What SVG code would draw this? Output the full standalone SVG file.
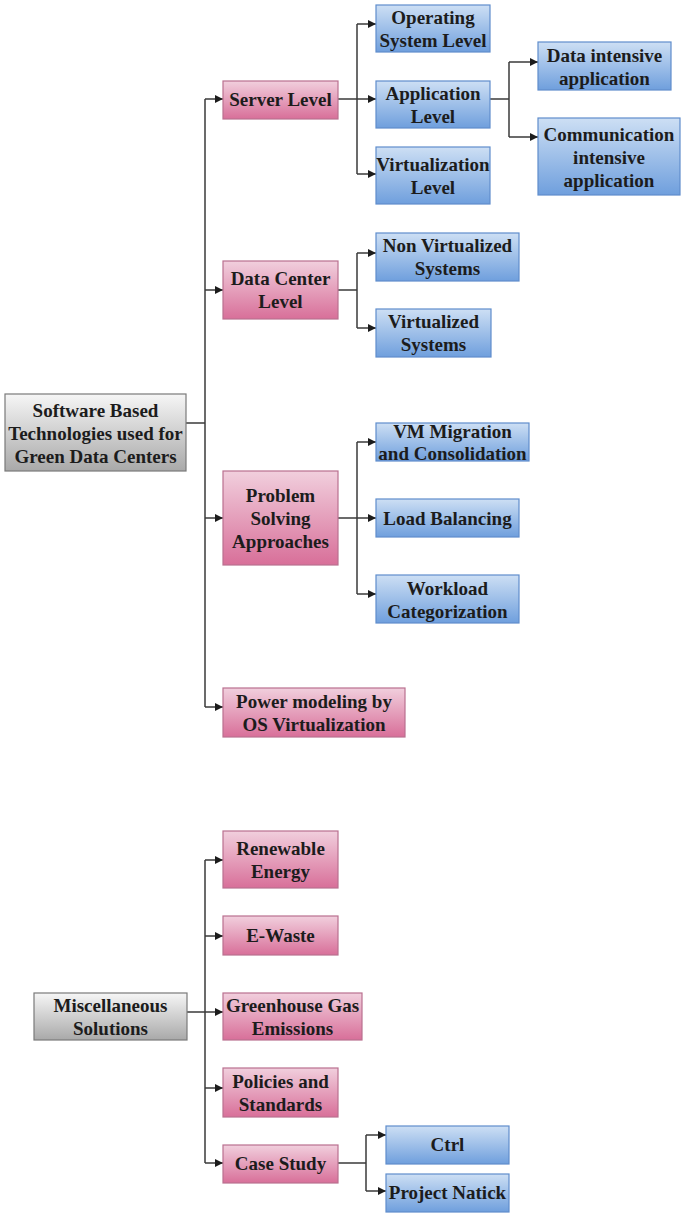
<svg xmlns="http://www.w3.org/2000/svg" width="685" height="1217" viewBox="0 0 685 1217">
<style>
.pk{fill:url(#gPink);stroke:#b9708f;stroke-width:1.2}
.bl{fill:url(#gBlue);stroke:#5f8dcc;stroke-width:1.2}
.gr{fill:url(#gGray);stroke:#7a7a7a;stroke-width:1.2}
text{font-family:"Liberation Serif","Times New Roman",serif;font-weight:bold;font-size:19px;fill:#1c1c1c;text-anchor:middle}
.cn path{fill:none;stroke:#3a3a3a;stroke-width:1.5}
.cn path.a{marker-end:url(#arr)}
</style>
<defs>
<linearGradient id="gPink" x1="0" y1="0" x2="0" y2="1"><stop offset="0" stop-color="#f1cfdd"/><stop offset="1" stop-color="#d86f99"/></linearGradient>
<linearGradient id="gBlue" x1="0" y1="0" x2="0" y2="1"><stop offset="0" stop-color="#cddff4"/><stop offset="1" stop-color="#6f9fdd"/></linearGradient>
<linearGradient id="gGray" x1="0" y1="0" x2="0" y2="1"><stop offset="0" stop-color="#f6f6f6"/><stop offset="1" stop-color="#a9a9a9"/></linearGradient>
<marker id="arr" markerUnits="userSpaceOnUse" markerWidth="9" markerHeight="8" refX="8" refY="4" orient="auto"><path d="M0,0 L8,4 L0,8 z" fill="#1c1c1c"/></marker>
</defs>
<rect width="685" height="1217" fill="#ffffff"/>

<g class="cn" id="connectors">
<path d="M186,423 H205"/>
<path d="M205,99 V707"/>
<path class="a" d="M205,99 H223"/>
<path class="a" d="M205,290 H223"/>
<path class="a" d="M205,518 H223"/>
<path class="a" d="M205,707 H223"/>
<path d="M338,99 H357"/>
<path d="M357,24 V174"/>
<path class="a" d="M357,24 H376"/>
<path class="a" d="M357,99 H376"/>
<path class="a" d="M357,174 H376"/>
<path d="M490,99 H509"/>
<path d="M509,62 V137"/>
<path class="a" d="M509,62 H538"/>
<path class="a" d="M509,137 H538"/>
<path d="M338,290 H357"/>
<path d="M357,253 V328"/>
<path class="a" d="M357,253 H376"/>
<path class="a" d="M357,328 H376"/>
<path d="M338,518 H357"/>
<path d="M357,442 V594"/>
<path class="a" d="M357,442 H376"/>
<path class="a" d="M357,518 H376"/>
<path class="a" d="M357,594 H376"/>
<path d="M187,1012 H205"/>
<path d="M205,860 V1163"/>
<path class="a" d="M205,860 H223"/>
<path class="a" d="M205,936 H223"/>
<path class="a" d="M205,1012 H223"/>
<path class="a" d="M205,1088 H223"/>
<path class="a" d="M205,1163 H223"/>
<path d="M338,1163 H366"/>
<path d="M366,1135 V1191"/>
<path class="a" d="M366,1135 H386"/>
<path class="a" d="M366,1191 H386"/>
</g>

<g id="root1"><rect class="gr" x="5" y="394" width="181" height="77"/>
<text x="95.5" y="417">Software Based</text><text x="95.5" y="440">Technologies used for</text><text x="95.5" y="463">Green Data Centers</text></g>

<g id="server"><rect class="pk" x="223" y="81" width="115" height="38"/><text x="280.5" y="106">Server Level</text></g>
<g id="osl"><rect class="bl" x="376" y="5" width="114" height="47"/><text x="433" y="24">Operating</text><text x="433" y="47">System Level</text></g>
<g id="appl"><rect class="bl" x="376" y="81" width="114" height="47"/><text x="433" y="100">Application</text><text x="433" y="123">Level</text></g>
<g id="virtl"><rect class="bl" x="376" y="147" width="114" height="57"/><text x="433" y="171">Virtualization</text><text x="433" y="194">Level</text></g>
<g id="dataint"><rect class="bl" x="538" y="42" width="133" height="48"/><text x="604.5" y="62">Data intensive</text><text x="604.5" y="85">application</text></g>
<g id="commint"><rect class="bl" x="538" y="118" width="142" height="77"/><text x="609" y="141">Communication</text><text x="609" y="164">intensive</text><text x="609" y="187">application</text></g>

<g id="dcl"><rect class="pk" x="223" y="261" width="115" height="58"/><text x="280.5" y="285">Data Center</text><text x="280.5" y="308">Level</text></g>
<g id="nonvirt"><rect class="bl" x="376" y="233" width="143" height="48"/><text x="447.5" y="252">Non Virtualized</text><text x="447.5" y="275">Systems</text></g>
<g id="virt"><rect class="bl" x="376" y="309" width="115" height="48"/><text x="433.5" y="328">Virtualized</text><text x="433.5" y="351">Systems</text></g>

<g id="psa"><rect class="pk" x="223" y="471" width="115" height="94"/><text x="280.5" y="502">Problem</text><text x="280.5" y="525">Solving</text><text x="280.5" y="548">Approaches</text></g>
<g id="vmm"><rect class="bl" x="376" y="423" width="153" height="38"/><text x="452.5" y="438">VM Migration</text><text x="452.5" y="460">and Consolidation</text></g>
<g id="lb"><rect class="bl" x="376" y="499" width="143" height="38"/><text x="447.5" y="525">Load Balancing</text></g>
<g id="wc"><rect class="bl" x="376" y="575" width="143" height="48"/><text x="447.5" y="595">Workload</text><text x="447.5" y="618">Categorization</text></g>

<g id="power"><rect class="pk" x="223" y="688" width="182" height="49"/><text x="314" y="708">Power modeling by</text><text x="314" y="731">OS Virtualization</text></g>

<g id="root2"><rect class="gr" x="34" y="993" width="153" height="47"/><text x="110.5" y="1012">Miscellaneous</text><text x="110.5" y="1035">Solutions</text></g>
<g id="renew"><rect class="pk" x="223" y="831" width="115" height="57"/><text x="280.5" y="855">Renewable</text><text x="280.5" y="878">Energy</text></g>
<g id="ewaste"><rect class="pk" x="223" y="916" width="115" height="39"/><text x="280.5" y="942">E-Waste</text></g>
<g id="ghg"><rect class="pk" x="223" y="993" width="139" height="47"/><text x="292.5" y="1012">Greenhouse Gas</text><text x="292.5" y="1035">Emissions</text></g>
<g id="policies"><rect class="pk" x="223" y="1068" width="115" height="49"/><text x="280.5" y="1088">Policies and</text><text x="280.5" y="1111">Standards</text></g>
<g id="case"><rect class="pk" x="223" y="1145" width="115" height="38"/><text x="280.5" y="1170">Case Study</text></g>
<g id="ctrl"><rect class="bl" x="386" y="1126" width="123" height="38"/><text x="447.5" y="1151">Ctrl</text></g>
<g id="natick"><rect class="bl" x="386" y="1174" width="123" height="38"/><text x="447.5" y="1199">Project Natick</text></g>
</svg>
